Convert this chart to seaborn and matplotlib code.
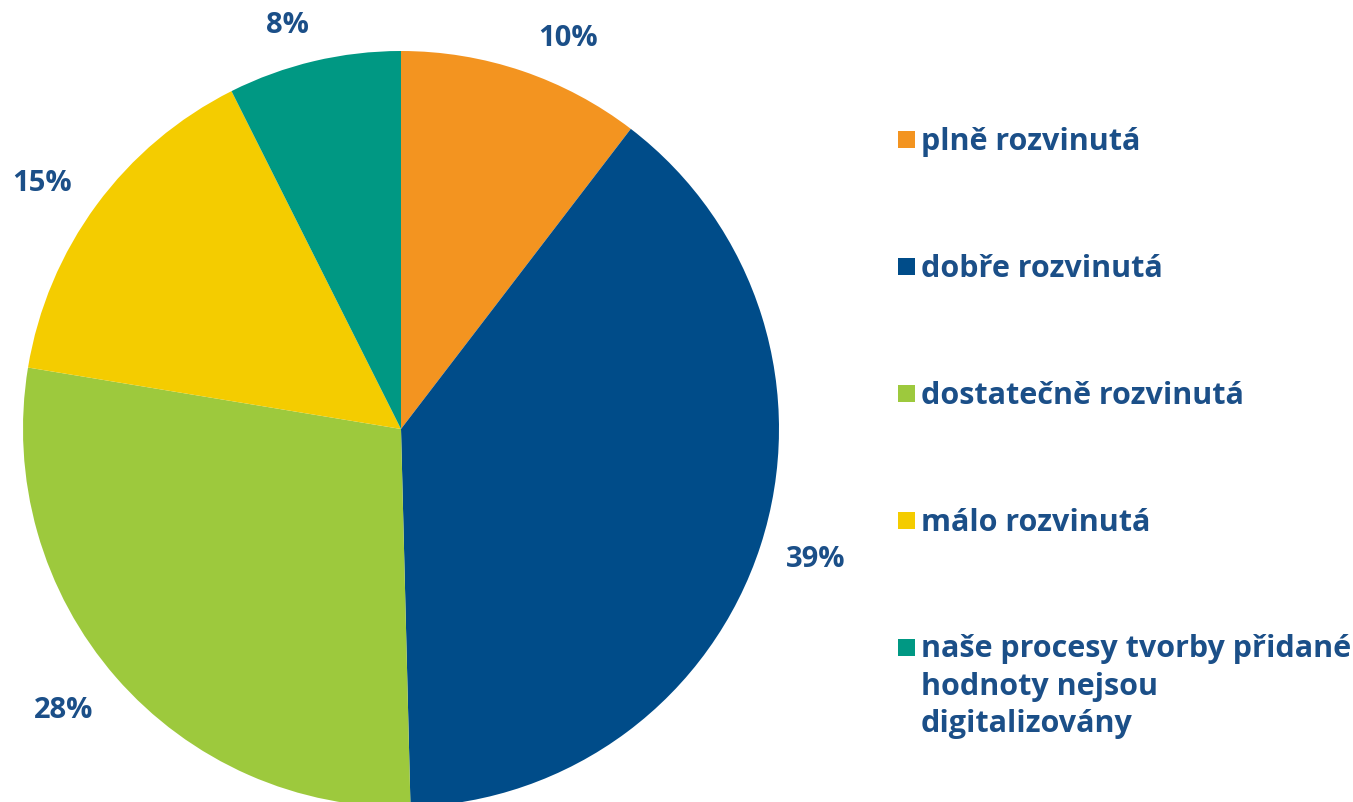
import numpy as np
import matplotlib
matplotlib.use("Agg")
import matplotlib.pyplot as plt
from matplotlib.patches import Rectangle
from matplotlib.legend_handler import HandlerPatch
import seaborn as sns

categories = ["plně rozvinutá", "dobře rozvinutá", "dostatečně rozvinutá",
              "málo rozvinutá",
              "naše procesy tvorby přidané\nhodnoty nejsou\ndigitalizovány"]
values = [10.4, 39.2, 28.0, 15.0, 7.4]
pct_labels = ["10%", "39%", "28%", "15%", "8%"]
colors = ["#F39420", "#004C89", "#9DC93D", "#F4CC00", "#009883"]

# label placement (style): radial distance and angular nudge per label
label_dist = [1.127, 1.150, 1.159, 1.153, 1.112]
label_nudge = [-4.4, 0.6, -1.3, 1.9, 2.3]

sns.set_theme(style="white")
plt.rcParams['font.family'] = ['Open Sans', 'DejaVu Sans']

TXT = "#1B4F88"
FS = 21
LFS = 22
W, H = 1353, 803
fig = plt.figure(figsize=(W / 100, H / 100), dpi=100)
fig.patch.set_facecolor("white")

cx, cy, r = 401, 430, 378
ax = fig.add_axes([(cx - r) / W, (H - cy - r) / H, 2 * r / W, 2 * r / H])
wedges, texts = ax.pie(values, labels=pct_labels, colors=sns.color_palette(colors),
                       startangle=90, counterclock=False, radius=1.0,
                       labeldistance=1.15,
                       wedgeprops=dict(linewidth=0),
                       textprops=dict(color=TXT, fontsize=FS, fontweight="bold"))
for w, t, d, n in zip(wedges, texts, label_dist, label_nudge):
    mid = np.deg2rad((w.theta1 + w.theta2) / 2 + n)
    t.set_position((d * np.cos(mid), d * np.sin(mid)))
    t.set_ha("center")
    t.set_va("center")
ax.set_xlim(-1, 1)
ax.set_ylim(-1, 1)
ax.set_aspect("equal")
ax.axis("off")


def square(legend, orig_handle, xdescent, ydescent, width, height, fontsize):
    s = 12.24  # points (~17 px)
    return Rectangle((-xdescent, -ydescent), s, s)


leg = fig.legend(wedges, categories, loc="upper left",
                 bbox_to_anchor=(898 / W, 1 - 127 / H),
                 frameon=False, fontsize=LFS,
                 handlelength=12.24 / LFS, handleheight=0.75, handletextpad=0.2,
                 labelspacing=3.17, borderpad=0, borderaxespad=0,
                 handler_map={matplotlib.patches.Wedge: HandlerPatch(patch_func=square)})
for col in leg._legend_handle_box.get_children():
    for hp in col.get_children():
        hp.align = "top"
for t in leg.get_texts():
    t.set_color(TXT)
    t.set_fontweight("bold")
    t.set_linespacing(1.31)

fig.savefig("out.png", dpi=100, facecolor="white")
